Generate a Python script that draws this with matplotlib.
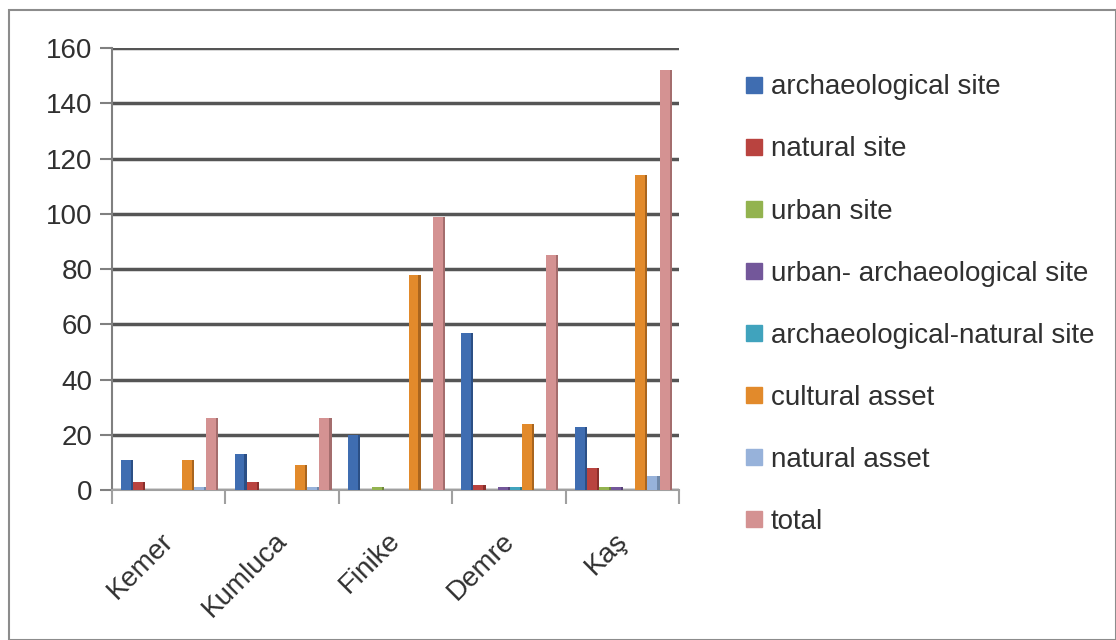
import numpy as np
import matplotlib.pyplot as plt
import matplotlib.transforms as mtransforms
from matplotlib.patches import Rectangle
from matplotlib.lines import Line2D

# ── Data ──────────────────────────────────
towns = ["Kemer", "Kumluca", "Finike", "Demre", "Kaş"]
series = ["archaeological site", "natural site", "urban site",
          "urban- archaeological site", "archaeological-natural site",
          "cultural asset", "natural asset", "total"]

archaeological_site = [11, 13, 20, 57, 23]
natural_site = [3, 3, 0, 2, 8]
urban_site = [0, 0, 1, 0, 1]
urban_archaeological_site = [0, 0, 0, 1, 1]
archaeological_natural_site = [0, 0, 0, 1, 0]
cultural_asset = [11, 9, 78, 24, 114]
natural_asset = [1, 1, 0, 0, 5]
total = [26, 26, 99, 85, 152]

yticks = [0, 20, 40, 60, 80, 100, 120, 140, 160]

values = [archaeological_site, natural_site, urban_site, urban_archaeological_site,
          archaeological_natural_site, cultural_asset, natural_asset, total]
colors = ["#3F6DB1", "#B9433F", "#93B34F", "#73579A", "#40A3BD", "#E28A2B", "#97B2DA", "#D49292"]
sides = ["#2B4F85", "#8A2F2C", "#6E873A", "#553F75", "#2E7A8E", "#A9651E", "#7088A8", "#A46D6D"]

plt.rcParams.update({
    "font.family": ["Liberation Sans", "DejaVu Sans"],
    "font.size": 20,
    "text.color": "#303030",
    "xtick.color": "#303030",
    "ytick.color": "#303030",
})

fig = plt.figure(figsize=(11.16, 6.4), dpi=100)
fig.patches.append(Rectangle((0.008, 0.0), 0.992, 0.984, transform=fig.transFigure,
                             fill=False, edgecolor="#8c8c8c", linewidth=1.5))
ax = fig.add_axes([0.1004, 0.234, 0.508, 0.691])

# ── Bars (front face + darker side face) ──
x = np.arange(len(towns))
w = 0.107
for i, (vals, c, sc) in enumerate(zip(values, colors, sides)):
    pos = x - 0.42 + i * w
    ax.bar(pos, vals, width=w * 0.82, align="edge", color=c, zorder=3)
    ax.bar(pos + w * 0.82, vals, width=w * 0.18, align="edge", color=sc, zorder=3)

ax.set_xlim(-0.5, len(towns) - 0.5)
ax.set_ylim(0, 160)
ax.set_yticks(yticks)
ax.tick_params(axis="y", length=9, width=1.5, color="#808080", labelsize=20, pad=5)
ax.set_xticks(x)
ax.set_xticklabels(towns, rotation=45, ha="right", rotation_mode="anchor", fontsize=20)
ax.tick_params(axis="x", length=0, pad=27)
shift = mtransforms.ScaledTranslation(-8 / 100, 0, fig.dpi_scale_trans)
for lbl in ax.get_xticklabels():
    lbl.set_transform(lbl.get_transform() + shift)
# category separators
ax.set_xticks(np.arange(len(towns) + 1) - 0.5, minor=True)
ax.tick_params(axis="x", which="minor", length=10, width=1.5, color="#a0a0a0")

ax.grid(axis="y", color="#555555", linewidth=2.5, zorder=1)
for s in ["top", "right"]:
    ax.spines[s].set_visible(False)
ax.spines["left"].set_color("#808080")
ax.spines["left"].set_linewidth(1.5)
ax.spines["bottom"].set_color("#a0a0a0")
ax.spines["bottom"].set_linewidth(1.5)

# ── Legend ────────────────────────────────
handles = [Line2D([], [], marker="s", linestyle="", markersize=11, color=c) for c in colors]
fig.legend(handles, series, loc="upper left", bbox_to_anchor=(0.641, 0.923),
           frameon=False, fontsize=20, labelspacing=1.30, handletextpad=0.1,
           handlelength=1.0)

fig.savefig("out.png", dpi=100)
